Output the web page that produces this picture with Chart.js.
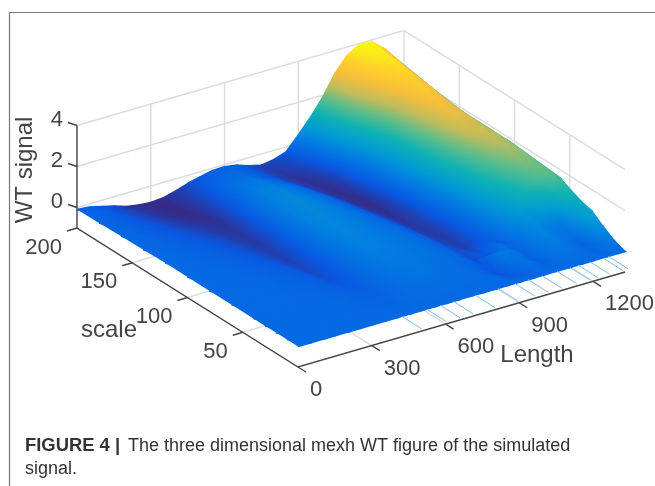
<!DOCTYPE html>
<html>
<head>
<meta charset="utf-8">
<style>
  html, body { margin: 0; padding: 0; background: #fff; }
  #wrap { width: 655px; height: 486px; }
  canvas { filter: blur(0.6px); }
</style>
<script src="https://cdn.jsdelivr.net/npm/chart.js@4"></script>
</head>
<body>
<div id="wrap"><canvas id="chart-surface" width="655" height="486"></canvas></div>
<script>
// grid of the surface: one row of WT values per scale, one value per length
const lengths = [0,50,100,150,200,250,300,350,400,450,500,550,600,650,700,750,800,850,900,950,1000,1050,1100,1150,1200,1250,1300,1330];
const scales = [200,180,160,140,120,100,80,60,40,30,20,10,0];

const z200 = [-.1,-.15,-.3,-.45,-.65,-.75,-.8,-.75,-.6,-.4,-.25,-.12,-.1,-.2,-.4,-.55,-.45,-.25,.4,1.1,1.9,2.9,3.6,3.95,3.9,3.4,2.7,2.3];
const z180 = [-.08,-.1,-.2,-.35,-.5,-.65,-.75,-.8,-.65,-.35,-.05,.1,.1,-.1,-.3,-.55,-.7,-.6,-.2,.6,1.4,2.2,3,3.55,3.7,3.1,2.45,2.1];
const z160 = [-.05,-.07,-.15,-.25,-.35,-.5,-.6,-.7,-.7,-.35,.05,.3,.35,.2,0,-.3,-.6,-.75,-.6,0,.7,1.4,2.2,2.95,3.35,2.95,2.3,1.9];
const z140 = [-.03,-.05,-.1,-.15,-.25,-.35,-.45,-.6,-.65,-.35,.1,.4,.5,.35,.15,-.05,-.4,-.7,-.78,-.3,.35,1,1.75,2.5,3,2.75,2.1,1.8];
const z120 = [0,0,-.05,-.1,-.15,-.25,-.35,-.5,-.6,-.35,.1,.4,.48,.4,.25,.05,-.2,-.55,-.75,-.5,.1,.75,1.45,2.1,2.65,2.6,2.15,1.8];
const z100 = [0,0,-.03,-.05,-.1,-.15,-.25,-.4,-.55,-.3,.05,.35,.45,.38,.25,.12,-.05,-.35,-.65,-.55,-.1,.5,1.15,1.7,2.2,2.45,2.15,1.8];
const z80 = [0,0,0,-.02,-.05,-.1,-.15,-.25,-.45,-.3,.03,.25,.38,.33,.25,.18,.03,-.2,-.55,-.6,-.25,.3,.85,1.35,1.8,2.1,2.05,1.7];
const z60 = [0,0,0,0,-.02,-.05,-.08,-.15,-.3,-.25,0,.18,.3,.28,.22,.15,.07,-.1,-.4,-.55,-.3,.15,.6,1,1.4,1.7,1.85,1.6];
const z40 = [0,0,0,0,0,-.02,-.03,-.07,-.12,-.15,0,.1,.18,.2,.16,.1,.07,-.05,-.35,-.25,.1,-.05,.25,.45,.3,.35,1,1.1];
const z30 = [0,0,0,0,0,-.01,-.02,-.05,-.08,-.1,0,.07,.12,.14,.12,.08,.05,-.1,-.25,.25,.2,-.1,.2,.4,.2,.1,.85,.95];
const z20 = [0,0,0,0,0,0,0,-.03,-.05,-.08,0,.04,.07,.08,.07,.05,.03,-.05,-.3,.1,.12,-.15,.15,.25,.1,-.1,.45,.55];
const z10 = [0,0,0,0,0,0,0,-.01,-.02,-.03,0,.02,.03,.03,.03,.02,.01,0,-.15,-.15,.05,-.05,.05,.1,.05,-.05,.15,.2];
const z0 = [0,0,0,0,0,0,0,0,0,0,0,0,0,0,0,0,0,0,0,0,0,0,0,0,0,0,0,0];
const rows = [z200,z180,z160,z140,z120,z100,z80,z60,z40,z30,z20,z10,z0];

// the thin mesh lines that hang below the front edge
const streakLengths = [422,523,578,632,720,813,882,936,992,1053,1106,1139,1187,1240,1262];

const lengthTicks = [0,300,600,900,1200];
const scaleTicks = [50,100,150,200];
const zTicks = [0,2,4];

const lengthMax = 1330, scaleMax = 200, zMin = -1, zMax = 4;
const cMin = -.8, cMax = 4;

const parula = [[53,42,135],[8,88,226],[2,122,226],[2,156,210],[15,178,180],[89,189,140],[190,188,92],[245,190,60],[254,210,40],[249,251,14]];

// fixed MATLAB style view, floor corner length=0 scale=0 as the origin
function project(l, s, z) {
    return {
        x: 298 + 0.2459 * l - 1.105 * s,
        y: 367 - 0.0714 * l - 0.695 * s - 20.5 * (z - zMin)
    };
}

function colorOf(v) {
    const t = Math.max(0, Math.min(1, (v - cMin) / (cMax - cMin))) * (parula.length - 1);
    const i = Math.min(parula.length - 2, Math.floor(t));
    const f = t - i;
    const c = parula[i].map((p, k) => Math.round(p + (parula[i + 1][k] - p) * f));
    return `rgb(${c[0]},${c[1]},${c[2]})`;
}

const ctx = document.getElementById('chart-surface').getContext('2d');

// colour over one triangle, a linear gradient that follows its three values
function triangleFill(pts, vals) {
    const vMin = Math.min(...vals), vMax = Math.max(...vals);
    const det = (pts[1].x - pts[0].x) * (pts[2].y - pts[0].y) - (pts[2].x - pts[0].x) * (pts[1].y - pts[0].y);
    if (vMax - vMin < 0.001 || Math.abs(det) < 0.01) return colorOf((vMin + vMax) / 2);
    const a = ((vals[1] - vals[0]) * (pts[2].y - pts[0].y) - (vals[2] - vals[0]) * (pts[1].y - pts[0].y)) / det;
    const b = ((vals[2] - vals[0]) * (pts[1].x - pts[0].x) - (vals[1] - vals[0]) * (pts[2].x - pts[0].x)) / det;
    const n = a * a + b * b;
    const p0 = pts[vals.indexOf(vMin)];
    const g = ctx.createLinearGradient(p0.x, p0.y, p0.x + a / n * (vMax - vMin), p0.y + b / n * (vMax - vMin));
    g.addColorStop(0, colorOf(vMin));
    for (let i = 1; i < parula.length - 1; i++) {
        const v = cMin + (cMax - cMin) * i / (parula.length - 1);
        if (v > vMin && v < vMax) g.addColorStop((v - vMin) / (vMax - vMin), colorOf(v));
    }
    g.addColorStop(1, colorOf(vMax));
    return g;
}

function polyline(points, color, width) {
    return { data: points, showLine: true, borderColor: color, borderWidth: width, pointRadius: 0, fill: false };
}

function triangle(corners) {
    const pts = corners.map(c => project(c[0], c[1], c[2]));
    const paint = triangleFill(pts, corners.map(c => c[2]));
    return { data: pts, showLine: true, fill: 'shape', backgroundColor: paint, borderColor: paint, borderWidth: 1.6, pointRadius: 0 };
}

// walls and floor grid, behind everything
const gridColor = '#dddddd';
const walls = [];
zTicks.forEach(z => {
    walls.push(polyline([project(0, scaleMax, z), project(lengthMax, scaleMax, z), project(lengthMax, 0, z)], gridColor, 1.5));
});
lengthTicks.slice(1).forEach(l => {
    walls.push(polyline([project(l, 0, zMin), project(l, scaleMax, zMin), project(l, scaleMax, zMax)], gridColor, 1.5));
});
scaleTicks.slice(0, 3).forEach(s => {
    walls.push(polyline([project(0, s, zMin), project(lengthMax, s, zMin), project(lengthMax, s, zMax)], gridColor, 1.5));
});
walls.push(polyline([project(lengthMax, scaleMax, zMin), project(lengthMax, scaleMax, zMax)], gridColor, 1.5));

// surface, painted from the far corner to the near one
const surface = [];
for (let r = 0; r < scales.length - 1; r++) {
    for (let c = lengths.length - 2; c >= 0; c--) {
        const far = [lengths[c], scales[r], rows[r][c]];
        const farR = [lengths[c + 1], scales[r], rows[r][c + 1]];
        const near = [lengths[c], scales[r + 1], rows[r + 1][c]];
        const nearR = [lengths[c + 1], scales[r + 1], rows[r + 1][c + 1]];
        surface.push(triangle([far, farR, nearR]));
        surface.push(triangle([far, nearR, near]));
    }
}

const streaks = streakLengths.map(l => polyline([project(l, 0, 0), project(l, -18, 0)], '#7dbcf0', 1));

// axes on top
const axisColor = '#444444';
const axes = [
    polyline([project(lengthMax, 0, zMin), project(0, 0, zMin), project(0, scaleMax, zMin), project(0, scaleMax, zMax)], axisColor, 1.4)
];
lengthTicks.forEach(l => {
    const p = project(l, 0, zMin);
    axes.push(polyline([p, { x: p.x + 8, y: p.y + 5 }], axisColor, 1.4));
});
scaleTicks.forEach(s => {
    const p = project(0, s, zMin);
    axes.push(polyline([p, { x: p.x - 10, y: p.y + 3 }], axisColor, 1.4));
});
zTicks.forEach(z => {
    const p = project(0, scaleMax, z);
    axes.push(polyline([p, { x: p.x - 9, y: p.y - 3 }], axisColor, 1.4));
});

// first dataset ends up on top in Chart.js
const datasets = [...axes, ...streaks, ...surface.reverse(), ...walls];

const textPlugin = {
    id: 'figureText',
    afterDraw(chart) {
        const c = chart.ctx;
        c.save();
        c.strokeStyle = '#777777';
        c.lineWidth = 1.2;
        c.beginPath();
        c.moveTo(9.5, 486);
        c.lineTo(9.5, 12.5);
        c.lineTo(655, 12.5);
        c.stroke();

        c.fillStyle = '#444444';
        c.textBaseline = 'middle';
        c.font = '22px "Liberation Sans"';
        c.textAlign = 'left';
        lengthTicks.forEach(l => {
            const p = project(l, 0, zMin);
            c.fillText(String(l), p.x + 12, p.y + 23);
        });
        c.textAlign = 'right';
        scaleTicks.forEach(s => {
            const p = project(0, s, zMin);
            c.fillText(String(s), p.x - 15, p.y + 19.5);
        });
        zTicks.forEach(z => {
            const p = project(0, scaleMax, z);
            c.fillText(String(z), p.x - 14, p.y - 6);
        });

        c.textAlign = 'center';
        c.font = '24px "Liberation Sans"';
        c.fillText('Length', 537, 355);
        c.fillText('scale', 109, 330);
        c.save();
        c.translate(25, 170);
        c.rotate(-Math.PI / 2);
        c.fillText('WT signal', 0, 0);
        c.restore();

        c.fillStyle = '#333333';
        c.textAlign = 'left';
        c.textBaseline = 'alphabetic';
        c.font = 'bold 18.4px "Liberation Sans"';
        c.fillText('FIGURE 4 |', 25, 451);
        c.font = '18px "Liberation Sans"';
        c.fillText('The three dimensional mexh WT figure of the simulated', 128, 451);
        c.fillText('signal.', 25, 474);
        c.restore();
    }
};

new Chart(ctx, {
    type: 'scatter',
    data: { datasets: datasets },
    options: {
        responsive: false,
        animation: false,
        events: [],
        layout: { padding: 0 },
        plugins: { legend: { display: false }, tooltip: { enabled: false } },
        scales: {
            x: { type: 'linear', min: 0, max: 655, display: false },
            y: { type: 'linear', min: 0, max: 486, reverse: true, display: false }
        }
    },
    plugins: [textPlugin]
});
</script>
</body>
</html>
